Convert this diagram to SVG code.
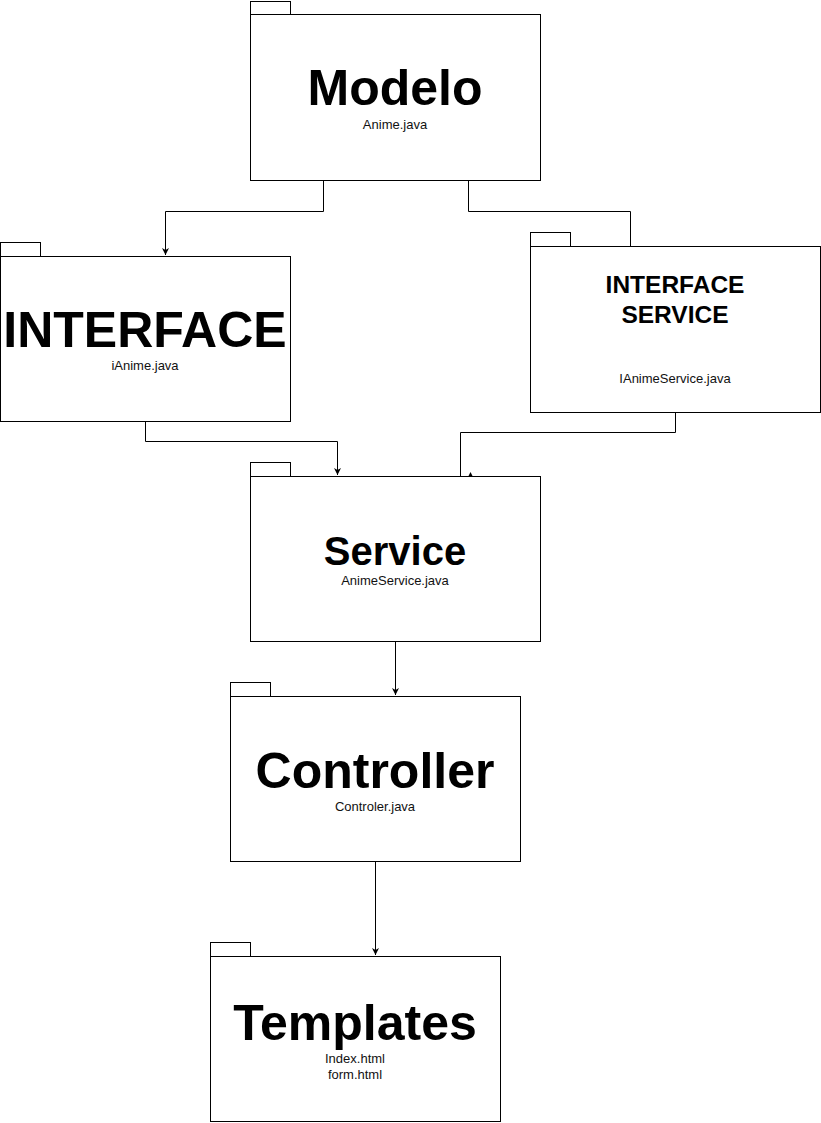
<svg xmlns="http://www.w3.org/2000/svg" width="821" height="1123" viewBox="0 0 821 1123">
<defs>
<style>
.box{fill:#fff;stroke:#000;stroke-width:1}
.big{font-family:"Liberation Sans",Arial,sans-serif;font-weight:bold;font-size:50px;text-anchor:middle;fill:#000}
.mid{font-family:"Liberation Sans",Arial,sans-serif;font-weight:bold;font-size:24.5px;text-anchor:middle;fill:#000}
.sv{font-family:"Liberation Sans",Arial,sans-serif;font-weight:bold;font-size:40px;text-anchor:middle;fill:#000}
.sm{font-family:"Liberation Sans",Arial,sans-serif;font-size:13px;text-anchor:middle;fill:#111}
.ln{fill:none;stroke:#000;stroke-width:1}
</style>
<marker id="arr" markerWidth="8" markerHeight="8" refX="7" refY="4" orient="auto" markerUnits="userSpaceOnUse">
<path d="M0,0.5 L7,4 L0,7.5 L2,4 Z" fill="#000"/>
</marker>
</defs>
<rect width="821" height="1123" fill="#fff"/>
<g id="connectors">
<path class="ln" d="M323.5,180 V211.5 H165.5 V255" marker-end="url(#arr)"/>
<path class="ln" d="M468.5,180 V211.5 H630.5 V246"/>
<path class="ln" d="M145.5,421 V441.5 H337.5 V475" marker-end="url(#arr)"/>
<path class="ln" d="M675.5,412 V432.5 H460.5 V476"/>
<path d="M468.5,476 L470.5,472 L472.5,476 Z" fill="#000"/>
<path class="ln" d="M395.5,641 V695" marker-end="url(#arr)"/>
<path class="ln" d="M375.5,861 V955" marker-end="url(#arr)"/>
</g>
<g id="modelo">
<rect class="box" x="250.5" y="1.5" width="40" height="13"/>
<rect class="box" x="250.5" y="14.5" width="290" height="166"/>
<text class="big" x="395" y="105">Modelo</text>
<text class="sm" x="395" y="129">Anime.java</text>
</g>
<g id="interface">
<rect class="box" x="0.5" y="242.5" width="40" height="14"/>
<rect class="box" x="0.5" y="256.5" width="290" height="165"/>
<text class="big" x="145" y="347">INTERFACE</text>
<text class="sm" x="145" y="370">iAnime.java</text>
</g>
<g id="interface-service">
<rect class="box" x="530.5" y="232.5" width="40" height="14"/>
<rect class="box" x="530.5" y="246.5" width="290" height="166"/>
<text class="mid" x="675" y="293">INTERFACE</text>
<text class="mid" x="675" y="323">SERVICE</text>
<text class="sm" x="675" y="383">IAnimeService.java</text>
</g>
<g id="service">
<rect class="box" x="250.5" y="462.5" width="40" height="14"/>
<rect class="box" x="250.5" y="476.5" width="290" height="165"/>
<text class="sv" x="395" y="565">Service</text>
<text class="sm" x="395" y="585">AnimeService.java</text>
</g>
<g id="controller">
<rect class="box" x="230.5" y="682.5" width="40" height="14"/>
<rect class="box" x="230.5" y="696.5" width="290" height="165"/>
<text class="big" x="375" y="788">Controller</text>
<text class="sm" x="375" y="811">Controler.java</text>
</g>
<g id="templates">
<rect class="box" x="210.5" y="942.5" width="40" height="14"/>
<rect class="box" x="210.5" y="956.5" width="290" height="165"/>
<text class="big" x="355" y="1040">Templates</text>
<text class="sm" x="355" y="1063">Index.html</text>
<text class="sm" x="355" y="1079">form.html</text>
</g>
</svg>
